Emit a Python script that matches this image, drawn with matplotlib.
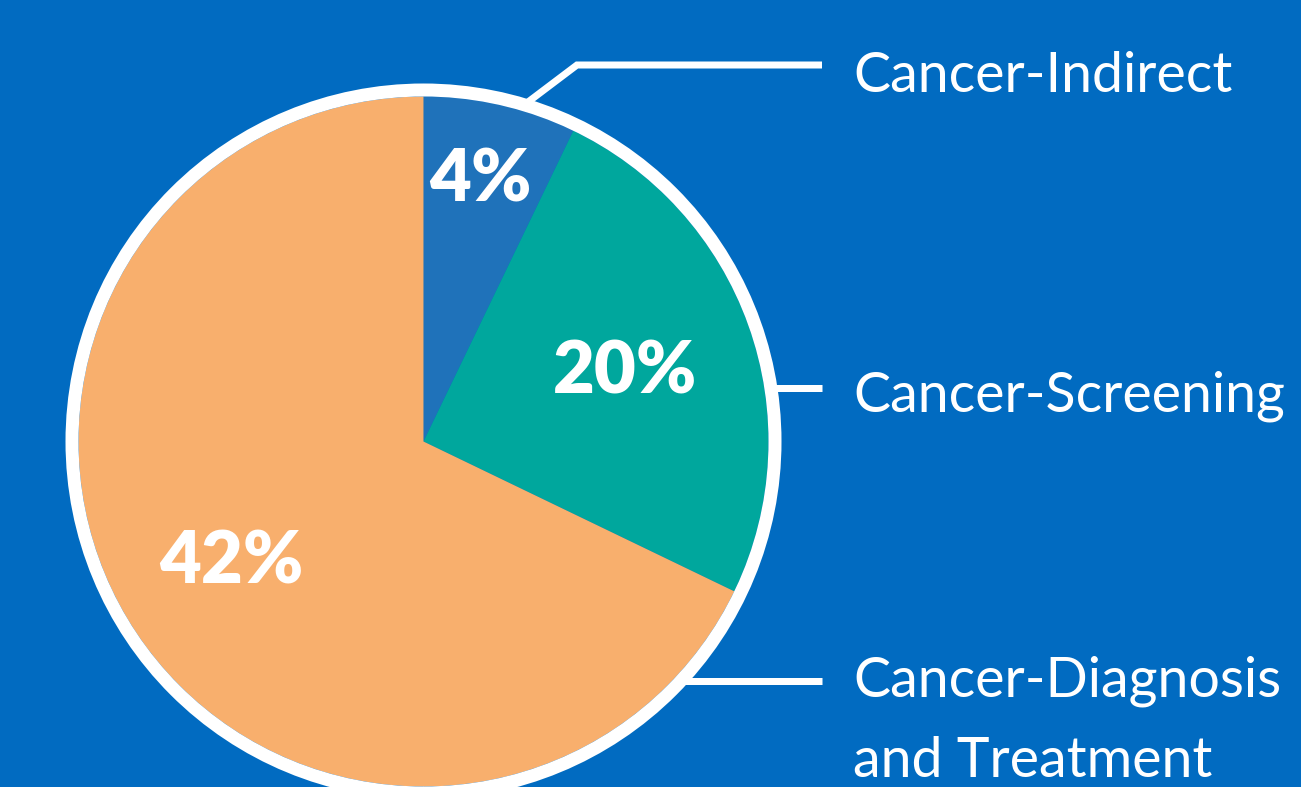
import matplotlib
matplotlib.use("Agg")
import matplotlib.pyplot as plt
from matplotlib.patches import Circle

# ---- data ----
categories = ["Cancer-Indirect", "Cancer-Screening", "Cancer-Diagnosis\nand Treatment"]
slice_share = [7.15, 25.0, 67.85]          # share of circle as drawn (%)
pct_labels = ["4%", "20%", "42%"]
colors = ["#1F72BA", "#00A79D", "#F8AF6D"]
bg = "#016BC1"

W, H = 1301, 787
fig = plt.figure(figsize=(W / 100, H / 100), dpi=100, facecolor=bg)
ax = fig.add_axes([0, 0, 1, 1])
ax.set_facecolor(bg)

def Y(ypx):
    return H - ypx

cx, cy = 423.5, Y(441.5)
R = 345
ax.pie(slice_share, colors=colors, startangle=90, counterclock=False,
       center=(cx, cy), radius=R, frame=True,
       wedgeprops=dict(linewidth=0, antialiased=True))
ax.add_patch(Circle((cx, cy), R + 6.5, fill=False, ec="white", lw=13 * 0.72, zorder=5))

lw = 7 * 0.72
# leader lines (layout)
ax.plot([528, 577, 822], [Y(102), Y(65), Y(65)], color="white", lw=lw,
        solid_capstyle="butt", solid_joinstyle="miter", zorder=4)
ax.plot([772, 822], [Y(388), Y(388)], color="white", lw=lw, solid_capstyle="butt", zorder=4)
ax.plot([682, 822], [Y(681), Y(681)], color="white", lw=lw, solid_capstyle="butt", zorder=4)

lab_font = "Lato"
fs_lab = 40
ax.text(853, Y(91.7), categories[0], color="white", fontsize=fs_lab, family=lab_font,
        ha="left", va="baseline")
ax.text(853, Y(411.7), categories[1], color="white", fontsize=fs_lab, family=lab_font,
        ha="left", va="baseline")
l1, l2 = categories[2].split("\n")
ax.text(853, Y(696.7), l1, color="white", fontsize=fs_lab, family=lab_font,
        ha="left", va="baseline")
ax.text(853, Y(776.7), l2, color="white", fontsize=fs_lab, family=lab_font,
        ha="left", va="baseline")

fs_pct = 52
pct_pos = [(480, 201), (625, 393), (231, 584)]
for (x, y), t in zip(pct_pos, pct_labels):
    ax.text(x, Y(y), t, color="white", fontsize=fs_pct, family=lab_font,
            fontweight="heavy", ha="center", va="baseline", zorder=6)

ax.set_xlim(0, W)
ax.set_ylim(0, H)
ax.axis("off")
fig.savefig("out.png", dpi=100, facecolor=bg)
